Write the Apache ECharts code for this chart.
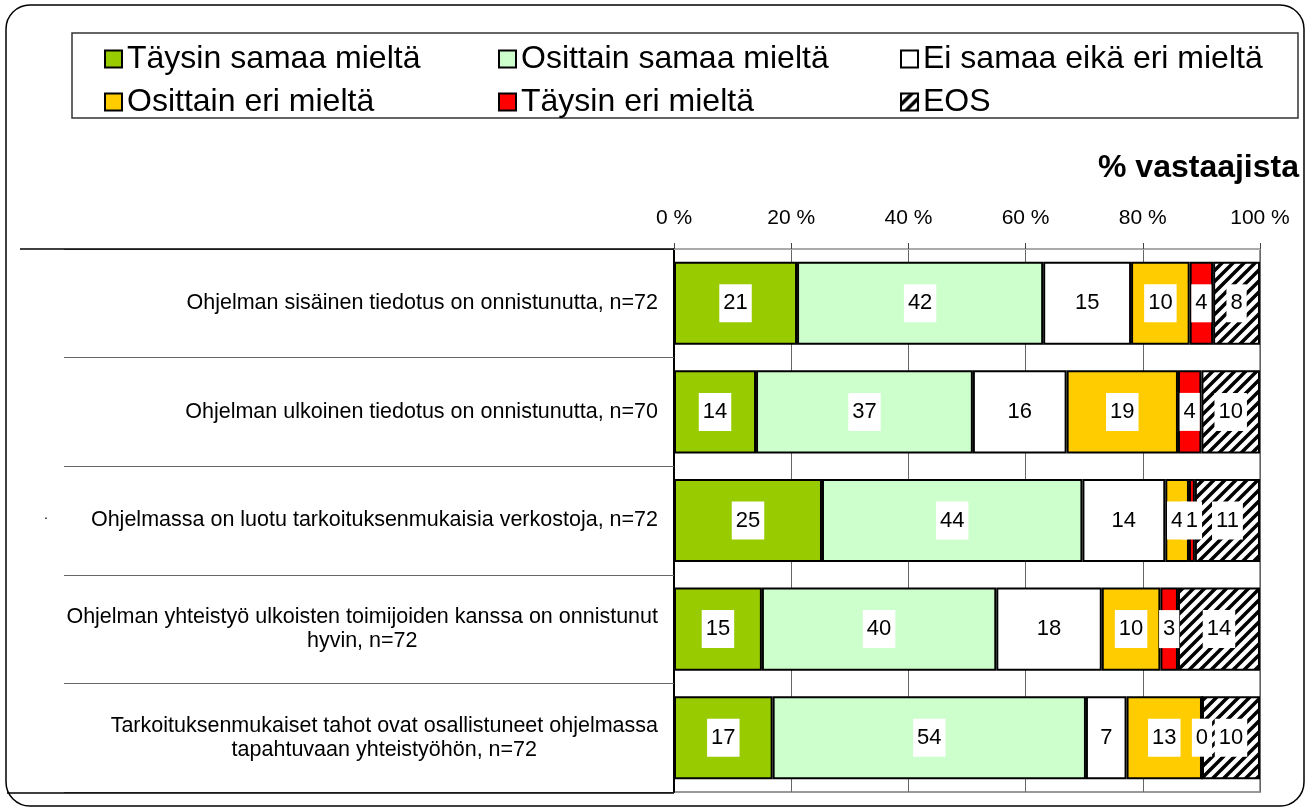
<!DOCTYPE html>
<html>
<head>
<meta charset="utf-8">
<script src="https://cdn.jsdelivr.net/npm/echarts@6/dist/echarts.min.js"></script>
<style>
  html, body { margin: 0; padding: 0; background: #fff; }
  #main { width: 1309px; height: 811px; }
</style>
</head>
<body>
<div id="main"></div>
<script>
// väittämät (ylhäältä alas)
var categories = [
  'Ohjelman sisäinen tiedotus on onnistunutta, n=72',
  'Ohjelman ulkoinen tiedotus on onnistunutta, n=70',
  'Ohjelmassa on luotu tarkoituksenmukaisia verkostoja, n=72',
  'Ohjelman yhteistyö ulkoisten toimijoiden kanssa on onnistunut\nhyvin, n=72',
  'Tarkoituksenmukaiset tahot ovat osallistuneet ohjelmassa\ntapahtuvaan yhteistyöhön, n=72'
];

var seriesNames = ['Täysin samaa mieltä', 'Osittain samaa mieltä', 'Ei samaa eikä eri mieltä',
  'Osittain eri mieltä', 'Täysin eri mieltä', 'EOS'];

var taysinSamaa = [21, 14, 25, 15, 17];
var osittainSamaa = [42, 37, 44, 40, 54];
var eiSamaaEikaEri = [15, 16, 14, 18, 7];
var osittainEri = [10, 19, 4, 10, 13];
var taysinEri = [4, 4, 1, 3, 0];
var eos = [8, 10, 11, 14, 10];

var raw = [taysinSamaa, osittainSamaa, eiSamaaEikaEri, osittainEri, taysinEri, eos];

var FONT = 'Liberation Sans, Arial, sans-serif';

// vinoviivoitus EOS-palkeille
function hatch() {
  var s = 11;
  var c = document.createElement('canvas');
  c.width = s; c.height = s;
  var ctx = c.getContext('2d');
  ctx.fillStyle = '#fff';
  ctx.fillRect(0, 0, s, s);
  ctx.strokeStyle = '#000';
  ctx.lineWidth = 3.5;
  ctx.beginPath();
  ctx.moveTo(-s / 2, s / 2); ctx.lineTo(s / 2, -s / 2);
  ctx.moveTo(0, s); ctx.lineTo(s, 0);
  ctx.moveTo(s / 2, s * 1.5); ctx.lineTo(s * 1.5, s / 2);
  ctx.stroke();
  return { image: c, repeat: 'repeat' };
}

var colors = ['#99CC00', '#CCFFCC', '#FFFFFF', '#FFCC00', '#FF0000', hatch()];

// 100 % pinottu: rivit skaalataan summaan 100
var rowSum = categories.map(function (c, i) {
  return raw.reduce(function (a, arr) { return a + arr[i]; }, 0);
});

var myChart = echarts.init(document.getElementById('main'));

var series = raw.map(function (arr, k) {
  return {
    name: seriesNames[k],
    type: 'bar',
    stack: 'total',
    barCategoryGap: '23.5%',
    data: arr.map(function (v, i) { return v / rowSum[i] * 100; }),
    itemStyle: { color: colors[k], borderColor: '#000', borderWidth: 2 },
    label: {
      show: true,
      position: 'inside',
      formatter: function (p) { return String(arr[p.dataIndex]); },
      backgroundColor: '#fff',
      padding: [8, 4, 8, 4],
      color: '#000',
      fontSize: 22,
      fontFamily: FONT
    },
    emphasis: { disabled: true }
  };
});

var legendText = { fontSize: 32, color: '#000', fontFamily: FONT, lineHeight: 30 };
function legendCol(left, names) {
  return {
    orient: 'vertical', left: left, top: 38, itemGap: 11,
    itemWidth: 17, itemHeight: 17, icon: 'rect',
    textStyle: legendText, selectedMode: false,
    data: names
  };
}

var option = {
  animation: false,
  title: {
    text: '% vastaajista', right: 5, top: 147,
    textStyle: { fontSize: 32, fontWeight: 'bold', color: '#000', fontFamily: FONT }
  },
  legend: [
    legendCol(99, [seriesNames[0], seriesNames[3]]),
    legendCol(493, [seriesNames[1], seriesNames[4]]),
    legendCol(895, [seriesNames[2], seriesNames[5]])
  ],
  grid: { left: 674, right: 49, top: 249, bottom: 19, show: true, borderColor: '#999', borderWidth: 2 },
  xAxis: {
    type: 'value', position: 'top', min: 0, max: 100, interval: 20,
    axisLabel: {
      formatter: '{value} %', fontSize: 21, color: '#000', margin: 20,
      fontFamily: FONT
    },
    axisLine: { show: true, lineStyle: { color: '#aaa', width: 2 } },
    axisTick: { show: true, length: 6, lineStyle: { color: '#444' } },
    splitLine: { show: true, lineStyle: { color: '#666', width: 1 } }
  },
  yAxis: {
    type: 'category', inverse: true, data: categories,
    axisLine: { show: true, lineStyle: { color: '#000', width: 2 } },
    axisTick: { show: true, length: 610, lineStyle: { color: '#666', width: 1 } },
    axisLabel: {
      margin: 16, color: '#000',
      formatter: function (v) {
        return v.split('\n').map(function (l) { return '{c|' + l + '}'; }).join('\n');
      },
      rich: {
        c: { align: 'center', fontSize: 21.5, lineHeight: 24, color: '#000', fontFamily: FONT }
      }
    }
  },
  graphic: [
    { type: 'rect', shape: { x: 6, y: 5, width: 1298, height: 801, r: 24 }, style: { fill: null, stroke: '#000', lineWidth: 1.5 }, silent: true },
    { type: 'rect', shape: { x: 72, y: 33, width: 1226, height: 85 }, style: { fill: null, stroke: '#333', lineWidth: 1.5 }, silent: true },
    { type: 'line', shape: { x1: 20, y1: 249, x2: 674, y2: 249 }, style: { stroke: '#000', lineWidth: 1.5 }, z: 10, silent: true },
    { type: 'line', shape: { x1: 7, y1: 793, x2: 674, y2: 793 }, style: { stroke: '#000', lineWidth: 1.5 }, z: 10, silent: true },
    { type: 'text', left: 44, top: 508, style: { text: '.', fontSize: 14, fill: '#000' }, silent: true }
  ],
  series: series
};

myChart.setOption(option);
</script>
</body>
</html>
